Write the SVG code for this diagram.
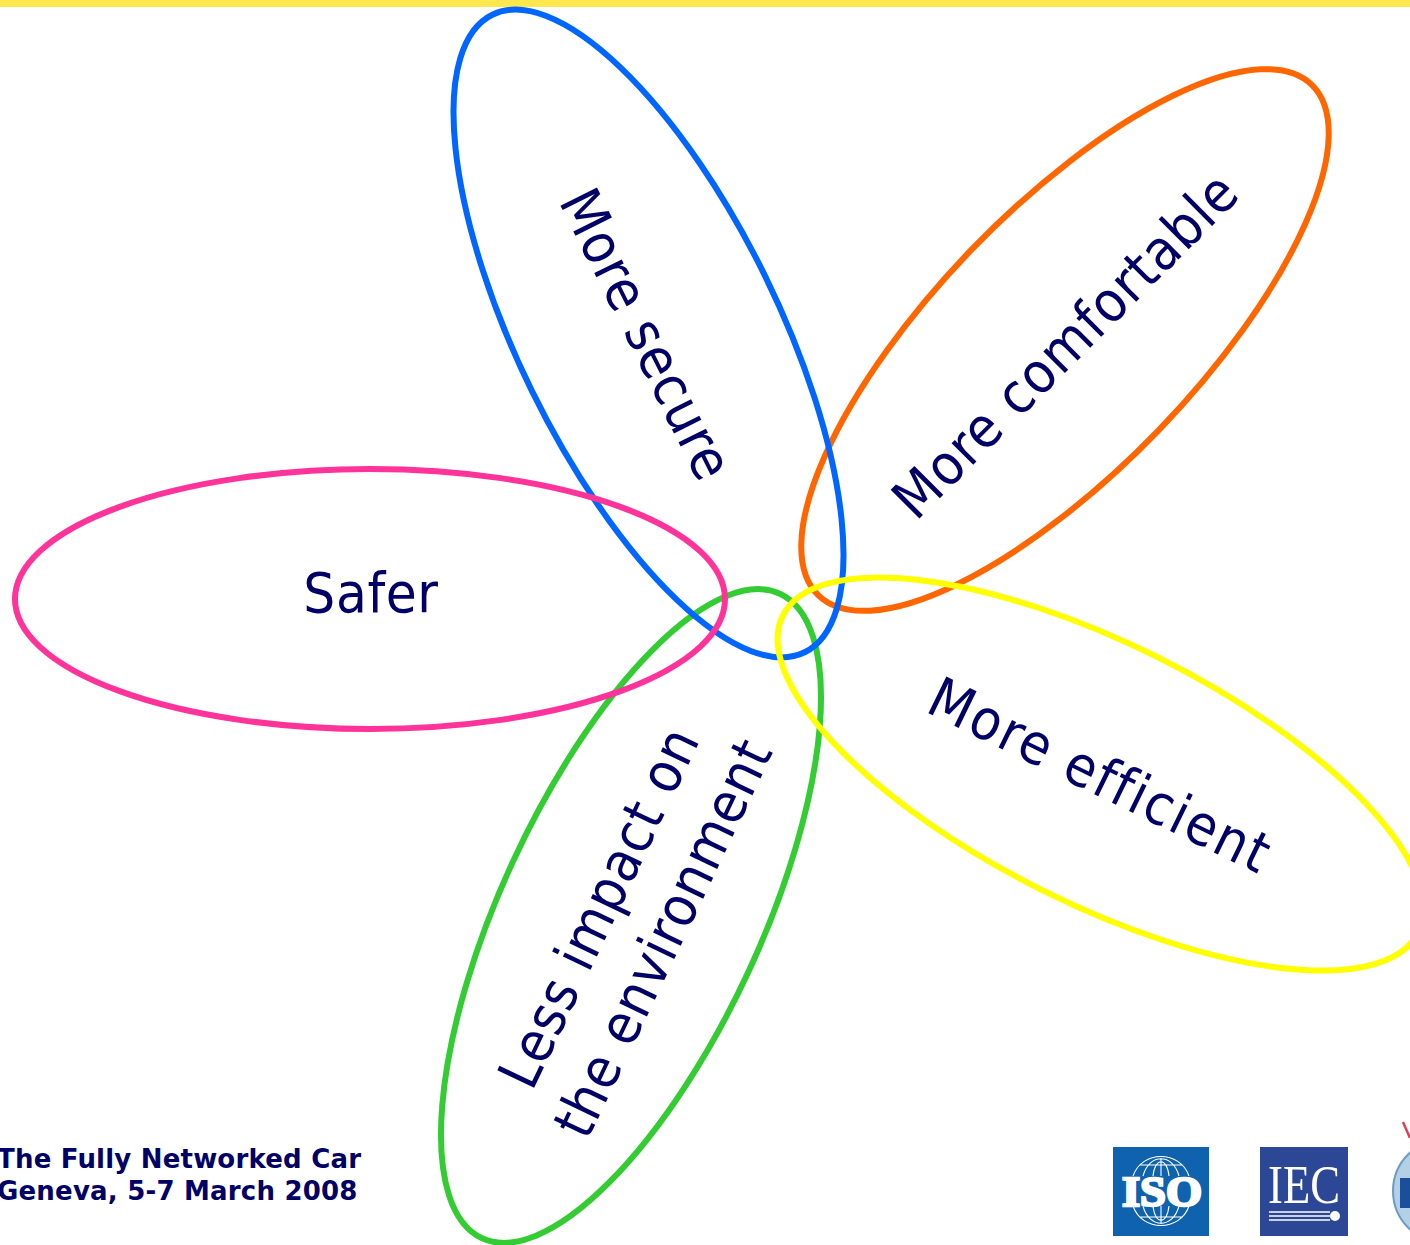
<svg xmlns="http://www.w3.org/2000/svg" width="1410" height="1245" viewBox="0 0 1410 1245">
<style>
.p{fill:none;stroke-width:6}
.t{font-family:"DejaVu Sans Condensed","DejaVu Sans",sans-serif;font-size:56px;fill:#000066;text-anchor:middle}
.f{font-family:"DejaVu Sans",sans-serif;font-weight:bold;font-size:26px;fill:#000066;letter-spacing:.2px}
.w{fill:none;stroke:#fff;stroke-width:1.1}
</style>
<rect width="1410" height="1245" fill="#fff"/>
<rect id="top-bar" width="1410" height="7" fill="#ffe84d"/>
<g id="petals">
<g id="orange"><ellipse class="p" cx="1065" cy="340" rx="355" ry="130" transform="rotate(-46 1065 340)" stroke="#ff6600"/><text class="t" letter-spacing="1" transform="translate(1079 359) rotate(-45)">More comfortable</text></g>
<g id="green"><ellipse class="p" cx="631" cy="916" rx="355" ry="130" transform="rotate(-65.200 631 916)" stroke="#33cc33"/><text class="t" letter-spacing="0.900" transform="translate(638 926) rotate(-64.500)"><tspan x="0" y="-24">Less impact on</tspan><tspan x="0" y="47">the environment</tspan></text></g>
<g id="blue"><ellipse class="p" cx="648.500" cy="333.500" rx="355" ry="130" transform="rotate(63.900 648.500 333.500)" stroke="#0066ff"/><text class="t" letter-spacing="0.800" transform="translate(629 343) rotate(63.500)">More secure</text></g>
<g id="pink"><ellipse class="p" cx="370" cy="599" rx="355" ry="130" stroke="#ff3399"/><text class="t" letter-spacing="0.600" x="371" y="612">Safer</text></g>
<g id="yellow"><ellipse class="p" cx="1100.500" cy="774" rx="355" ry="130" transform="rotate(26.500 1100.500 774)" stroke="#ffff00"/><text class="t" letter-spacing="2" transform="translate(1092 793) rotate(26)">More efficient</text></g>
</g>
<g id="footer"><text class="f" x="-3" y="1168">The Fully Networked Car</text><text class="f" x="-3" y="1200">Geneva, 5-7 March 2008</text></g>
<g id="iso-logo">
<rect x="1113" y="1147" width="96" height="89" fill="#0f62ae"/>
<g class="w"><path d="M1133 1176C1142 1150 1180 1150 1189 1176M1143 1176C1149 1153 1173 1153 1179 1176M1153 1176C1155 1157 1167 1157 1169 1176M1140 1165H1182M1161 1158V1176"/>
<path d="M1133 1206C1142 1232 1180 1232 1189 1206M1143 1206C1149 1229 1173 1229 1179 1206M1153 1206C1155 1225 1167 1225 1169 1206M1140 1217H1182M1161 1224V1206"/></g>
<text x="1162" y="1206" font-family="Liberation Serif,serif" font-weight="bold" font-size="43" fill="#fff" text-anchor="middle" stroke="#fff" stroke-width="2.500" textLength="80" lengthAdjust="spacingAndGlyphs">ISO</text></g>
<g id="iec-logo">
<rect x="1260" y="1147" width="88" height="89" fill="#2c4796"/>
<text x="1304" y="1203" font-family="Liberation Serif,serif" font-size="55" fill="#fff" text-anchor="middle" textLength="72" lengthAdjust="spacingAndGlyphs">IEC</text>
<path d="M1269 1212H1330M1269 1216H1330M1269 1220H1330" stroke="#fff" stroke-width="1.300"/><circle cx="1335" cy="1216" r="5" fill="#fff"/></g>
<g id="itu-logo">
<path d="M1403 1122L1410 1138" stroke="#d8405a" stroke-width="2.500" fill="none"/>
<circle cx="1445" cy="1191" r="52" fill="#b4d0e6" stroke="#6d9cc2" stroke-width="2"/>
<rect x="1400" y="1178" width="10" height="30" fill="#1b4f9c"/>
</g>
</svg>
